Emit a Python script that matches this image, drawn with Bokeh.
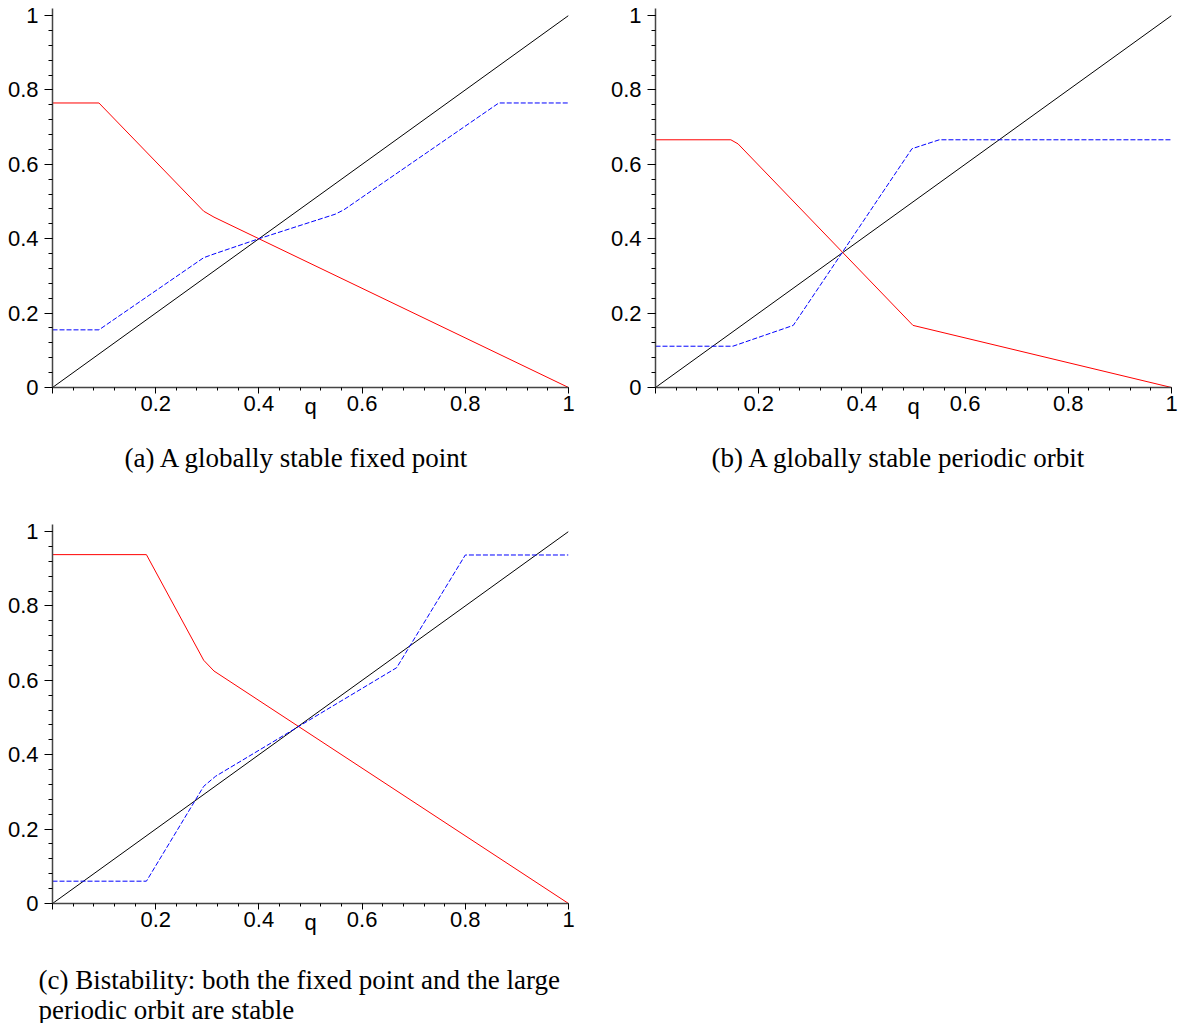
from bokeh.plotting import figure
from bokeh.layouts import column, row, Spacer
from bokeh.models import FixedTicker, Range1d
from bokeh.embed import file_html
from bokeh.resources import INLINE

# Identity line q -> q
diag_q = [0.0, 1.0]
diag_v = [0.0, 1.0]

# (a) globally stable fixed point: map f (red) and its second iterate (blue)
a_f_q = [0.0, 0.09, 0.293, 0.313, 1.0]
a_f_v = [0.765, 0.765, 0.474, 0.458, 0.0]
a_ff_q = [0.0, 0.09, 0.293, 0.313, 0.4, 0.548, 0.565, 0.865, 1.0]
a_ff_v = [0.155, 0.155, 0.349, 0.359, 0.4, 0.466, 0.478, 0.765, 0.765]

# (b) globally stable periodic orbit
b_f_q = [0.0, 0.146, 0.16, 0.499, 1.0]
b_f_v = [0.666, 0.666, 0.655, 0.167, 0.0]
b_ff_q = [0.0, 0.15, 0.267, 0.497, 0.55, 1.0]
b_ff_v = [0.111, 0.111, 0.167, 0.642, 0.666, 0.666]

# (c) bistability
c_f_q = [0.0, 0.182, 0.293, 0.313, 1.0]
c_f_v = [0.938, 0.938, 0.654, 0.625, 0.0]
c_ff_q = [0.0, 0.182, 0.293, 0.316, 0.667, 0.80, 1.0]
c_ff_v = [0.06, 0.06, 0.315, 0.342, 0.634, 0.937, 0.937]

# Axis ticks
major_ticks = [0.0, 0.2, 0.4, 0.6, 0.8, 1.0]
x_tick_labels = ["", "0.2", "0.4", "0.6", "0.8", "1"]
y_tick_labels = ["0", "0.2", "0.4", "0.6", "0.8", "1"]
minor_ticks = [round(0.04 * i, 2) for i in range(26)]
x_name = "q"

captions = [
    "(a) A globally stable fixed point",
    "(b) A globally stable periodic orbit",
    "(c) Bistability:  both the fixed point and the large\nperiodic orbit are stable",
]

SANS = "Liberation Sans"
SERIF = "Liberation Serif"


def panel(fq, fv, ffq, ffv, caption, cap_offset, cap_standoff,
          left, right, top, bottom):
    p = figure(frame_width=516, frame_height=379,
               x_range=Range1d(0, 1), y_range=Range1d(0, 1.019),
               output_backend="svg", toolbar_location=None,
               title=caption, title_location="below",
               min_border_left=left, min_border_right=right,
               min_border_top=top, min_border_bottom=bottom)
    p.outline_line_color = None
    p.xgrid.visible = False
    p.ygrid.visible = False
    p.background_fill_color = "white"
    p.border_fill_color = "white"

    p.line(diag_q, diag_v, line_color="black", line_width=1)
    p.line(fq, fv, line_color="#ff0000", line_width=1)
    p.line(ffq, ffv, line_color="#0000ff", line_width=1, line_dash="5 2")

    for ax, labels, tick_out, minor_out, standoff in (
            (p.xaxis, x_tick_labels, 6, 3, 2), (p.yaxis, y_tick_labels, 8, 4, 6)):
        ax.ticker = FixedTicker(ticks=major_ticks, minor_ticks=minor_ticks)
        ax.major_label_overrides = dict(zip(major_ticks, labels))
        ax.major_tick_in = 0
        ax.minor_tick_in = 0
        ax.major_tick_out = tick_out
        ax.minor_tick_out = minor_out
        ax.major_tick_line_color = "black"
        ax.minor_tick_line_color = "black"
        ax.axis_line_color = "#444444"
        ax.axis_line_width = 1.5
        ax.major_label_standoff = standoff
        ax.major_label_text_font = SANS
        ax.major_label_text_font_size = "22px"
        ax.major_label_text_color = "black"

    # variable name sits on the same line as the tick labels
    p.xaxis.axis_label = x_name
    p.xaxis.axis_label_text_font = SANS
    p.xaxis.axis_label_text_font_size = "22px"
    p.xaxis.axis_label_text_font_style = "normal"
    p.xaxis.axis_label_text_color = "black"
    p.xaxis.axis_label_standoff = -20

    p.title.text_font = SERIF
    p.title.text_font_size = "27px"
    p.title.text_font_style = "normal"
    p.title.text_color = "black"
    p.title.align = "left"
    p.title.offset = cap_offset
    p.title.standoff = cap_standoff
    p.title.text_line_height = 1.0
    return p


pa = panel(a_f_q, a_f_v, a_ff_q, a_ff_v, captions[0], 72, 38, 52, 14, 8, 113)
pb = panel(b_f_q, b_f_v, b_ff_q, b_ff_v, captions[1], 56, 38, 48, 11, 8, 113)
pc = panel(c_f_q, c_f_v, c_ff_q, c_ff_v, captions[2], -14, 51, 52, 14, 24, 120)

layout = column(row(pa, Spacer(width=25, height=10), pb), pc)

open("out.html", "w").write(file_html(layout, INLINE))
